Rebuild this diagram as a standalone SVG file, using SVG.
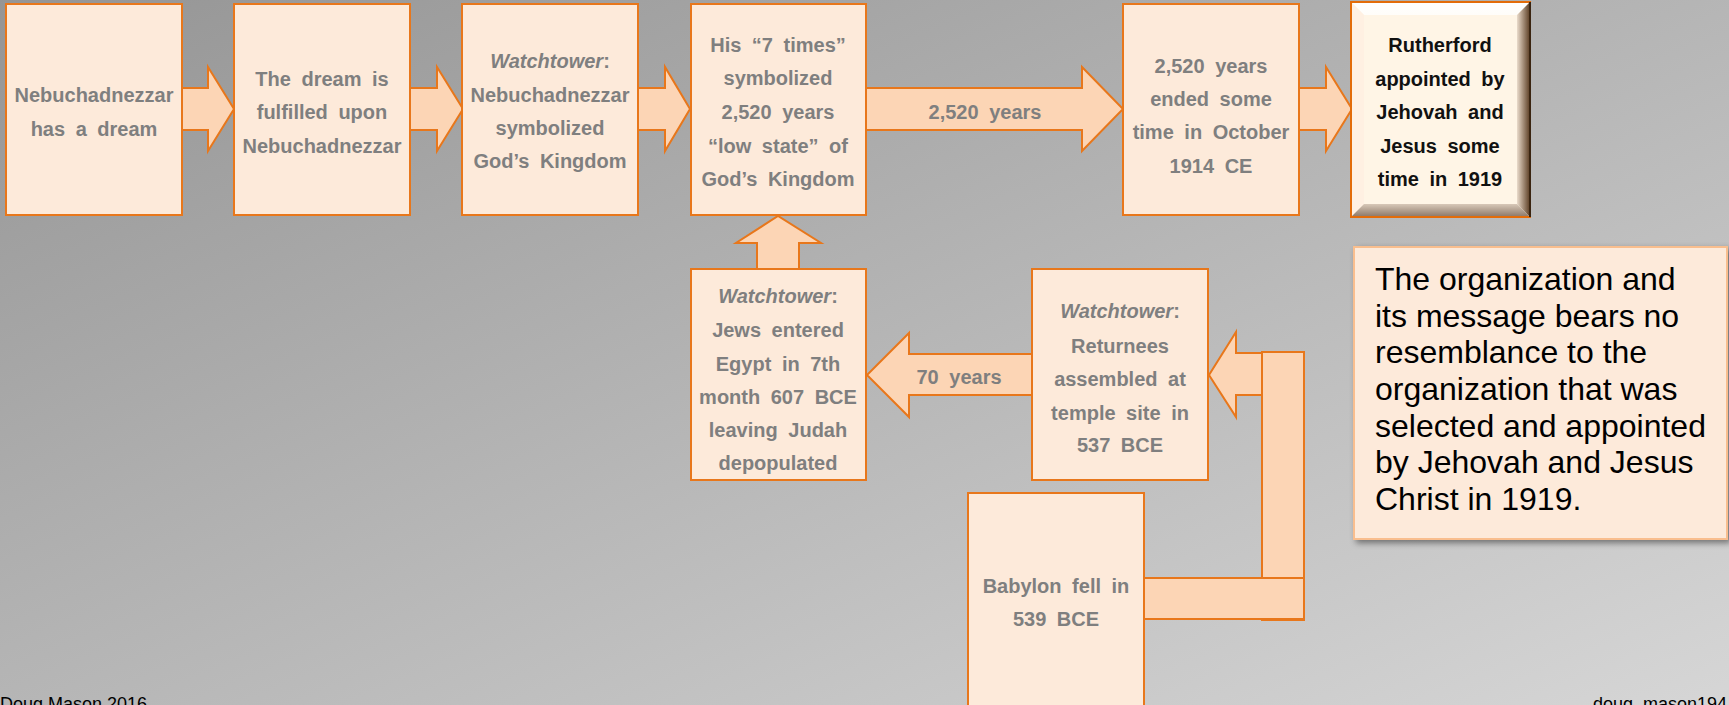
<svg xmlns="http://www.w3.org/2000/svg" width="1729" height="705" viewBox="0 0 1729 705">
<defs>
<linearGradient id="bg" x1="0" y1="0" x2="1" y2="1">
<stop offset="0" stop-color="#959595"/>
<stop offset="1" stop-color="#D6D6D6"/>
</linearGradient>
<linearGradient id="bevR" x1="0" y1="0" x2="1" y2="0">
<stop offset="0" stop-color="#EADBCB"/>
<stop offset="1" stop-color="#5A3C22"/>
</linearGradient>
<linearGradient id="bevB" x1="0" y1="0" x2="0" y2="1">
<stop offset="0" stop-color="#D8C8B8"/>
<stop offset="1" stop-color="#8A7666"/>
</linearGradient>
<linearGradient id="bevT" x1="0" y1="0" x2="0" y2="1">
<stop offset="0" stop-color="#FFFFFF"/>
<stop offset="1" stop-color="#FFFDF9"/>
</linearGradient>
<filter id="sh" x="-10%" y="-10%" width="125%" height="125%">
<feDropShadow dx="3" dy="3" stdDeviation="3" flood-color="#000" flood-opacity="0.45"/>
</filter>
<style>
.box{fill:#FDEADA;stroke:#E8771B;stroke-width:2}
.arr{fill:#FCD5B5;stroke:#E8771B;stroke-width:2;stroke-linejoin:miter}
.t{font-family:"Liberation Sans",Arial,sans-serif;font-weight:bold;font-size:20px;fill:#7F7F7F;text-anchor:middle;word-spacing:5px}
.k{fill:#111111}
.i{font-style:italic}
.note{font-family:"Liberation Sans",Arial,sans-serif;font-size:32px;fill:#000}
.foot{font-family:"Liberation Sans",Arial,sans-serif;font-size:18px;fill:#000}
</style>
</defs>
<rect x="0" y="0" width="1729" height="705" fill="url(#bg)"/>

<g id="connectors">
<polygon class="arr" points="182,88 208,88 208,67 234,109 208,151 208,130 182,130"/>
<polygon class="arr" points="410,88 437,88 437,67 463,109 437,151 437,130 410,130"/>
<polygon class="arr" points="638,88 665,88 665,67 690,109 665,151 665,130 638,130"/>
<polygon class="arr" points="866,88 1082,88 1082,67 1123,109 1082,151 1082,130 866,130"/>
<text class="t" x="985" y="119">2,520 years</text>
<polygon class="arr" points="1299,88 1326,88 1326,67 1352,109 1326,151 1326,130 1299,130"/>
<polygon class="arr" points="757,269 757,243 736,243 778,216 821,243 799,243 799,269"/>
<polygon class="arr" points="1032,354 909,354 909,333 867,375 909,417 909,395 1032,395"/>
<text class="t" x="959" y="384">70 years</text>
<polygon class="arr" points="1262,353 1236,353 1236,332 1209,375 1236,417 1236,395 1262,395"/>
<rect class="arr" x="1262" y="352" width="42" height="268"/>
<rect class="arr" x="1144" y="578" width="160" height="41"/>
</g>

<g id="n1">
<rect class="box" x="6" y="4" width="176" height="211"/>
<text class="t" x="94" y="102">Nebuchadnezzar</text>
<text class="t" x="94" y="136">has a dream</text>
</g>

<g id="n2">
<rect class="box" x="234" y="4" width="176" height="211"/>
<text class="t" x="322" y="86">The dream is</text>
<text class="t" x="322" y="119">fulfilled upon</text>
<text class="t" x="322" y="153">Nebuchadnezzar</text>
</g>

<g id="n3">
<rect class="box" x="462" y="4" width="176" height="211"/>
<text class="t" x="550" y="68"><tspan class="i">Watchtower</tspan>:</text>
<text class="t" x="550" y="102">Nebuchadnezzar</text>
<text class="t" x="550" y="135">symbolized</text>
<text class="t" x="550" y="168">God’s Kingdom</text>
</g>

<g id="n4">
<rect class="box" x="691" y="4" width="175" height="211"/>
<text class="t" x="778" y="52">His “7 times”</text>
<text class="t" x="778" y="85">symbolized</text>
<text class="t" x="778" y="119">2,520 years</text>
<text class="t" x="778" y="153">“low state” of</text>
<text class="t" x="778" y="186">God’s Kingdom</text>
</g>

<g id="n5">
<rect class="box" x="1123" y="4" width="176" height="211"/>
<text class="t" x="1211" y="73">2,520 years</text>
<text class="t" x="1211" y="106">ended some</text>
<text class="t" x="1211" y="139">time in October</text>
<text class="t" x="1211" y="173">1914 CE</text>
</g>

<g id="n6">
<rect x="1351" y="2" width="179" height="215" fill="#FFF5E6"/>
<polygon points="1351,2 1530,2 1517,15 1364,15" fill="url(#bevT)"/>
<polygon points="1351,2 1364,15 1364,204 1351,217" fill="#FFF0E2"/>
<polygon points="1530,2 1530,217 1517,204 1517,15" fill="url(#bevR)"/>
<polygon points="1351,217 1364,204 1517,204 1530,217" fill="url(#bevB)"/>
<rect x="1351" y="2" width="179" height="215" fill="none" stroke="#E36C09" stroke-width="2"/>
<line x1="1530" y1="2" x2="1530" y2="217" stroke="#3A2410" stroke-width="2"/>
<text class="t k" x="1440" y="52">Rutherford</text>
<text class="t k" x="1440" y="86">appointed by</text>
<text class="t k" x="1440" y="119">Jehovah and</text>
<text class="t k" x="1440" y="153">Jesus some</text>
<text class="t k" x="1440" y="186">time in 1919</text>
</g>

<g id="n7">
<rect class="box" x="691" y="269" width="175" height="211"/>
<text class="t" x="778" y="303"><tspan class="i">Watchtower</tspan>:</text>
<text class="t" x="778" y="337">Jews entered</text>
<text class="t" x="778" y="371">Egypt in 7th</text>
<text class="t" x="778" y="404">month 607 BCE</text>
<text class="t" x="778" y="437">leaving Judah</text>
<text class="t" x="778" y="470">depopulated</text>
</g>

<g id="n8">
<rect class="box" x="1032" y="269" width="176" height="211"/>
<text class="t" x="1120" y="318"><tspan class="i">Watchtower</tspan>:</text>
<text class="t" x="1120" y="353">Returnees</text>
<text class="t" x="1120" y="386">assembled at</text>
<text class="t" x="1120" y="420">temple site in</text>
<text class="t" x="1120" y="452">537 BCE</text>
</g>

<g id="n9">
<rect class="box" x="968" y="493" width="176" height="230"/>
<text class="t" x="1056" y="593">Babylon fell in</text>
<text class="t" x="1056" y="626">539 BCE</text>
</g>

<g id="note">
<rect x="1354" y="247" width="373" height="292" fill="#FDEADA" stroke="#F9BE8E" stroke-width="2" filter="url(#sh)"/>
<text class="note" x="1375" y="290">The organization and</text>
<text class="note" x="1375" y="327">its message bears no</text>
<text class="note" x="1375" y="363">resemblance to the</text>
<text class="note" x="1375" y="400">organization that was</text>
<text class="note" x="1375" y="437">selected and appointed</text>
<text class="note" x="1375" y="473">by Jehovah and Jesus</text>
<text class="note" x="1375" y="510">Christ in 1919.</text>
</g>

<g id="footer">
<text class="foot" x="0" y="710">Doug Mason 2016</text>
<text class="foot" x="1593" y="710">doug_mason194</text>
</g>
</svg>
